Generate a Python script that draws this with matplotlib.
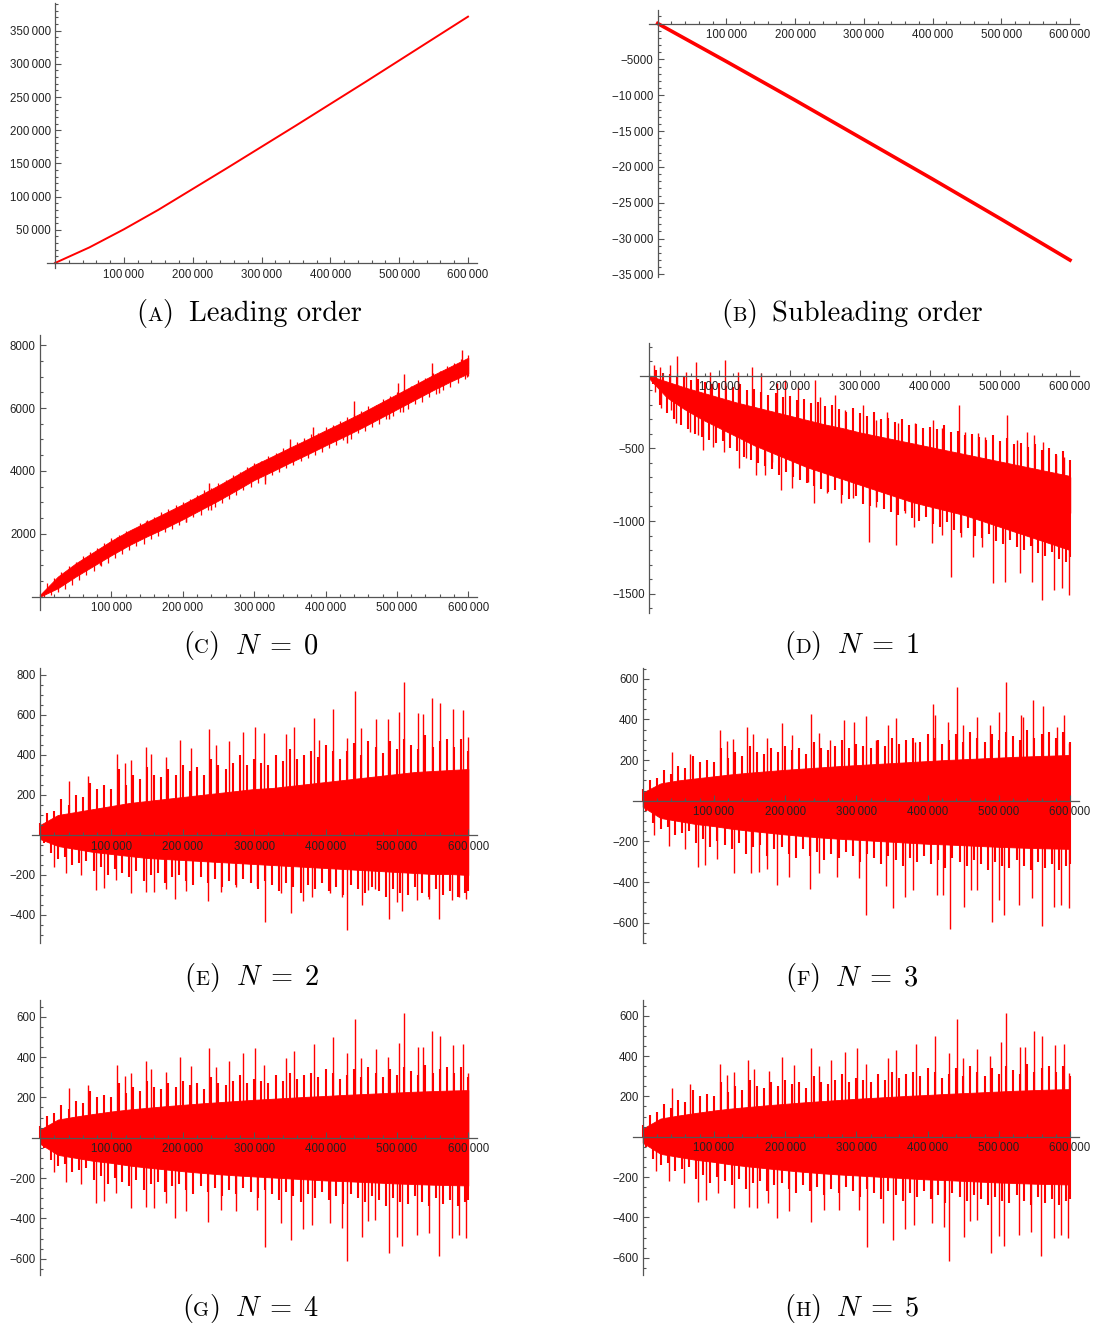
import numpy as np
import matplotlib
matplotlib.use('Agg')
import matplotlib.pyplot as plt
from matplotlib.ticker import FixedLocator, MultipleLocator, FuncFormatter

W, H = 1096, 1327
RED = '#ff0000'
AXC = '#555555'

plt.rcParams['mathtext.fontset'] = 'cm'

# ---------------- data (x in units of 1000) ----------------
# (A) leading order, sampled every 50 000
a_x = [0, 50, 100, 150, 200, 250, 300, 350, 400, 450, 500, 550, 600]
a_y = [0, 23500, 50700, 80000, 111500, 143000, 175000, 207000, 239500,
       272000, 305000, 338000, 371000]

# (B) subleading order, every 100 000
b_x = [0, 100, 200, 300, 400, 500, 600]
b_y = [0, -5300, -10700, -16200, -21700, -27300, -33000]

# solid core of the noisy bands, every 25 000
band_x = [0, 25, 50, 75, 100, 125, 150, 175, 200, 225, 250, 275, 300, 325,
          350, 375, 400, 425, 450, 475, 500, 525, 550, 575, 600]
# medium spikes, every 10 000
med_x = list(range(0, 601, 10))

c_top = [60, 640, 1060, 1420, 1780, 2100, 2380, 2660, 2940, 3240, 3540, 3860,
         4190, 4460, 4740, 5010, 5290, 5560, 5840, 6140, 6440, 6740, 7040, 7320, 7600]
c_bot = [0, 270, 640, 980, 1320, 1640, 1920, 2180, 2460, 2760, 3060, 3380,
         3710, 3980, 4260, 4530, 4810, 5080, 5360, 5660, 5960, 6260, 6560, 6840, 7100]
c_mu = [100, 430, 610, 800, 980, 1100, 1280, 1420, 1560, 1700,
        1880, 1960, 2080, 2160, 2350, 2430, 2540, 2680, 2780, 2900,
        3020, 3100, 3240, 3390, 3450, 3620, 3700, 3880, 3960, 4130,
        4250, 4330, 4480, 4560, 4720, 4800, 4920, 5040, 5160, 5220,
        5400, 5450, 5580, 5700, 5800, 5900, 6050, 6100, 6280, 6370,
        6500, 6620, 6700, 6880, 6950, 7100, 7180, 7350, 7420, 7560, 7700]
c_md = [0, 40, 150, 260, 380, 540, 700, 820, 970, 1080,
        1240, 1350, 1480, 1600, 1680, 1840, 1930, 2070, 2150, 2290,
        2380, 2520, 2600, 2770, 2850, 2980, 3120, 3230, 3380, 3500,
        3630, 3720, 3880, 3950, 4080, 4180, 4320, 4400, 4520, 4610,
        4740, 4830, 4980, 5020, 5200, 5280, 5400, 5500, 5650, 5760,
        5880, 5960, 6120, 6200, 6350, 6450, 6580, 6680, 6800, 6920, 7020]
c_up = [(108, 1907), (149, 2415), (237, 3600), (350, 5030), (383, 5400),
        (440, 6229), (502, 6800), (510, 7066), (549, 7415), (591, 7860)]
c_dn = [(84, 1006), (205, 2383), (240, 2754), (315, 3580), (430, 4894),
        (489, 5636), (509, 5879), (559, 6462), (598, 6990)]

d_top = [0, -40, -80, -115, -150, -185, -215, -245, -275, -305, -335, -360,
         -390, -415, -440, -465, -490, -515, -540, -565, -590, -615, -640, -665, -690]
d_bot = [-20, -150, -230, -300, -360, -420, -480, -530, -580, -630, -670, -710,
         -750, -790, -830, -870, -900, -930, -960, -1000, -1040, -1080, -1120, -1160, -1200]
d_mu = [0, 40, 20, 10, -10, 0, -30, -20, -40, -60,
        -50, -70, -80, -60, -100, -90, -110, -130, -120, -150,
        -140, -170, -160, -190, -180, -210, -200, -230, -250, -220,
        -260, -280, -250, -300, -290, -320, -300, -340, -330, -360,
        -350, -370, -340, -390, -380, -410, -400, -420, -440, -410,
        -450, -430, -470, -460, -490, -470, -510, -500, -540, -520, -580]
d_md = [-60, -200, -260, -300, -340, -370, -400, -420, -440, -460,
        -450, -500, -520, -560, -580, -600, -620, -640, -680, -660,
        -700, -720, -740, -760, -780, -800, -790, -820, -850, -830,
        -880, -900, -870, -920, -940, -960, -930, -980, -1000, -970,
        -1020, -1040, -1010, -1060, -1080, -1050, -1100, -1120, -1090, -1140,
        -1160, -1130, -1180, -1200, -1170, -1220, -1240, -1210, -1260, -1280, -1250]
d_up = [(6, 73), (15, 62), (29, 73), (40, 135), (53, 28), (67, 92), (87, 28),
        (108, 108), (127, 28), (147, 62), (159, 16), (182, -53), (193, -30),
        (212, -76), (236, -30), (243, -144), (265, -133), (279, -236), (305, -202),
        (324, -305), (339, -248), (355, -323), (379, -328), (405, -305), (417, -362),
        (441, -202), (450, -385), (469, -392), (479, -420), (510, -271), (524, -443),
        (538, -385), (548, -408), (562, -454), (580, -546), (591, -557), (600, -695)]
d_dn = [(8, -110), (17, -225), (31, -236), (38, -328), (58, -385), (69, -408),
        (76, -511), (91, -489), (106, -523), (128, -638), (138, -569), (152, -683),
        (165, -683), (175, -592), (188, -787), (204, -775), (227, -729), (235, -878),
        (253, -810), (273, -878), (291, -844), (314, -1142), (324, -901), (352, -1163),
        (365, -947), (377, -1039), (403, -1154), (417, -1096), (430, -1383),
        (445, -1108), (462, -1245), (474, -1177), (490, -1429), (507, -1417),
        (529, -1360), (546, -1417), (560, -1544), (577, -1475), (588, -1463), (598, -1509)]

e_top = [50, 100, 115, 130, 145, 160, 170, 180, 190, 200, 210, 220, 230, 235,
         245, 255, 265, 275, 285, 295, 305, 315, 320, 325, 330]
e_bot = [-20, -55, -70, -85, -95, -105, -115, -120, -125, -130, -135, -140,
         -145, -150, -155, -160, -165, -170, -175, -180, -185, -190, -195, -195, -200]
e_mu = [60, 110, 120, 180, 150, 200, 190, 260, 230, 250,
        230, 330, 250, 300, 280, 340, 300, 290, 330, 300,
        350, 320, 340, 300, 380, 350, 330, 360, 400, 350,
        380, 360, 350, 400, 370, 430, 380, 400, 420, 390,
        450, 420, 380, 420, 460, 400, 470, 440, 410, 470,
        430, 480, 450, 430, 500, 440, 470, 480, 440, 480, 420]
e_md = [-40, -90, -120, -110, -150, -140, -130, -180, -160, -200,
        -170, -190, -210, -180, -230, -200, -190, -240, -210, -200,
        -230, -250, -210, -240, -220, -260, -230, -250, -220, -240,
        -270, -230, -250, -280, -240, -260, -290, -250, -270, -240,
        -280, -260, -300, -250, -270, -290, -260, -280, -310, -270,
        -290, -300, -260, -290, -310, -270, -300, -280, -310, -290, -280]
e_up = [(41, 270), (67, 297), (108, 405), (119, 358), (128, 375), (148, 438),
        (156, 403), (177, 392), (196, 473), (212, 433), (237, 530), (247, 450),
        (265, 470), (284, 513), (301, 542), (314, 512), (345, 505), (356, 542),
        (384, 583), (391, 475), (410, 628), (430, 483), (441, 720), (450, 533),
        (470, 578), (487, 578), (503, 617), (510, 763), (530, 608), (537, 605),
        (549, 687), (561, 662), (579, 628), (592, 625), (599, 492)]
e_dn = [(19, -158), (37, -192), (58, -200), (78, -275), (89, -267), (106, -225),
        (128, -292), (149, -283), (160, -287), (176, -270), (189, -320), (205, -278),
        (236, -328), (254, -283), (275, -262), (304, -253), (315, -437), (337, -292),
        (352, -392), (369, -328), (381, -308), (406, -292), (423, -312), (430, -475),
        (451, -350), (460, -275), (469, -270), (489, -420), (500, -337), (507, -378),
        (528, -325), (545, -320), (559, -420), (577, -325), (587, -308), (597, -322)]

f_top = [40, 85, 100, 110, 120, 130, 138, 145, 152, 158, 164, 170, 175, 180,
         185, 190, 195, 200, 204, 208, 212, 216, 219, 222, 225]
f_bot = [-30, -85, -100, -115, -125, -138, -148, -157, -166, -174, -181, -187,
         -192, -197, -202, -207, -212, -215, -219, -223, -227, -230, -233, -235, -237]
f_mu = [60, 100, 110, 150, 130, 170, 160, 220, 190, 200,
        190, 260, 210, 240, 220, 270, 240, 230, 260, 240,
        270, 250, 260, 230, 290, 260, 250, 270, 300, 260,
        280, 270, 260, 300, 270, 310, 280, 300, 310, 290,
        330, 310, 280, 300, 330, 290, 340, 310, 290, 330,
        300, 340, 320, 300, 350, 310, 330, 340, 310, 340, 290]
f_md = [-50, -110, -140, -130, -170, -160, -150, -210, -190, -230,
        -200, -220, -240, -210, -260, -230, -220, -270, -240, -230,
        -260, -280, -240, -270, -250, -290, -260, -280, -250, -270,
        -300, -260, -280, -310, -270, -290, -320, -280, -300, -270,
        -310, -290, -330, -280, -300, -320, -290, -310, -340, -300,
        -320, -330, -290, -320, -340, -300, -330, -310, -340, -320, -310]
f_up = [(41, 238), (66, 228), (108, 348), (118, 295), (127, 305), (147, 361),
        (155, 328), (174, 307), (196, 380), (209, 323), (236, 426), (247, 334),
        (263, 298), (283, 397), (297, 389), (313, 416), (328, 298), (344, 372),
        (355, 405), (382, 290), (408, 475), (411, 421), (428, 389), (441, 557),
        (450, 370), (470, 410), (487, 370), (501, 438), (510, 585), (531, 420),
        (534, 413), (548, 495), (562, 467), (582, 364), (592, 421), (598, 282)]
f_dn = [(16, -169), (37, -223), (59, -239), (77, -325), (88, -316), (105, -289),
        (128, -357), (152, -354), (164, -352), (175, -338), (188, -415), (205, -374),
        (235, -436), (248, -357), (273, -374), (304, -382), (314, -561), (342, -420),
        (352, -530), (368, -475), (379, -439), (413, -464), (422, -464), (431, -633),
        (451, -521), (461, -439), (469, -439), (490, -595), (500, -489), (507, -562),
        (528, -513), (547, -480), (561, -616), (578, -521), (587, -513), (598, -530)]

g_top = [40, 90, 105, 118, 130, 140, 148, 156, 163, 170, 176, 182, 188, 193,
         198, 203, 207, 212, 216, 220, 224, 228, 231, 234, 236]
g_bot = [-30, -85, -100, -115, -125, -138, -148, -157, -166, -174, -181, -187,
         -192, -197, -202, -207, -212, -215, -219, -223, -227, -230, -233, -235, -237]
g_mu = [60, 110, 120, 160, 140, 180, 170, 230, 200, 210,
        200, 270, 220, 250, 230, 280, 250, 240, 270, 250,
        280, 260, 270, 240, 300, 270, 260, 280, 310, 270,
        290, 280, 270, 310, 280, 320, 290, 310, 320, 300,
        340, 320, 290, 310, 340, 300, 350, 320, 300, 340,
        310, 350, 330, 310, 360, 320, 340, 350, 320, 350, 300]
g_md = [-50, -110, -140, -130, -170, -160, -150, -210, -190, -230,
        -200, -220, -240, -210, -260, -230, -220, -270, -240, -230,
        -260, -280, -240, -270, -250, -290, -260, -280, -250, -270,
        -300, -260, -280, -310, -270, -290, -320, -280, -300, -270,
        -310, -290, -330, -280, -300, -320, -290, -310, -340, -300,
        -320, -330, -290, -320, -340, -300, -330, -310, -340, -320, -310]
g_up = [(41, 245), (67, 261), (108, 360), (119, 306), (128, 322), (148, 380),
        (156, 339), (177, 327), (196, 398), (212, 355), (237, 443), (247, 352),
        (265, 380), (284, 421), (301, 443), (314, 360), (345, 393), (356, 430),
        (384, 463), (410, 501), (430, 418), (441, 587), (450, 393), (470, 440),
        (487, 402), (503, 471), (510, 617), (530, 448), (537, 448), (549, 529),
        (561, 504), (579, 460), (592, 463), (599, 322)]
g_dn = [(19, -169), (37, -221), (58, -230), (78, -322), (89, -312), (106, -276),
        (128, -350), (149, -345), (160, -350), (176, -326), (189, -400), (205, -364),
        (236, -420), (254, -359), (275, -362), (304, -359), (315, -544), (337, -425),
        (352, -507), (369, -455), (381, -433), (406, -425), (423, -446), (430, -610),
        (451, -494), (460, -415), (469, -408), (489, -574), (500, -491), (507, -536),
        (528, -483), (545, -471), (559, -587), (577, -499), (587, -483), (597, -499)]

h_top = [40, 90, 105, 118, 130, 140, 148, 156, 163, 170, 176, 182, 188, 193,
         198, 203, 207, 212, 216, 220, 224, 228, 231, 234, 236]
h_bot = [-30, -85, -100, -115, -125, -138, -148, -157, -166, -174, -181, -187,
         -192, -197, -202, -207, -212, -215, -219, -223, -227, -230, -233, -235, -237]
h_mu = [60, 110, 120, 160, 140, 180, 170, 230, 200, 210,
        200, 270, 220, 250, 230, 280, 250, 240, 270, 250,
        280, 260, 270, 240, 300, 270, 260, 280, 310, 270,
        290, 280, 270, 310, 280, 320, 290, 310, 320, 300,
        340, 320, 290, 310, 340, 300, 350, 320, 300, 340,
        310, 350, 330, 310, 360, 320, 340, 350, 320, 350, 300]
h_md = [-50, -110, -140, -130, -170, -160, -150, -210, -190, -230,
        -200, -220, -240, -210, -260, -230, -220, -270, -240, -230,
        -260, -280, -240, -270, -250, -290, -260, -280, -250, -270,
        -300, -260, -280, -310, -270, -290, -320, -280, -300, -270,
        -310, -290, -330, -280, -300, -320, -290, -310, -340, -300,
        -320, -330, -290, -320, -340, -300, -330, -310, -340, -320, -310]
h_up = [(41, 243), (67, 259), (108, 358), (119, 305), (128, 320), (148, 378),
        (156, 338), (177, 326), (196, 396), (212, 353), (237, 441), (247, 350),
        (265, 378), (284, 419), (301, 441), (314, 358), (345, 391), (356, 428),
        (384, 461), (410, 498), (430, 416), (441, 582), (450, 391), (470, 437),
        (487, 400), (503, 468), (510, 612), (530, 446), (537, 446), (549, 524),
        (561, 500), (579, 457), (592, 460), (599, 318)]
h_dn = [(19, -170), (37, -222), (58, -231), (78, -324), (89, -314), (106, -278),
        (128, -352), (149, -347), (160, -352), (176, -328), (189, -402), (205, -366),
        (236, -423), (254, -361), (275, -364), (304, -361), (315, -548), (337, -428),
        (352, -510), (369, -458), (381, -436), (406, -428), (423, -449), (430, -615),
        (451, -497), (460, -418), (469, -411), (489, -578), (500, -494), (507, -540),
        (528, -486), (545, -474), (559, -591), (577, -502), (587, -486), (597, -502)]

captions = [('A', 'Leading order'), ('B', 'Subleading order'),
            ('C', r'$N\;=\;0$'), ('D', r'$N\;=\;1$'), ('E', r'$N\;=\;2$'),
            ('F', r'$N\;=\;3$'), ('G', r'$N\;=\;4$'), ('H', r'$N\;=\;5$')]


# ---------------- helpers ----------------
def fmt(v, pos=None):
    v = int(round(v))
    s = str(abs(v))
    if abs(v) >= 10000:
        s = s[:-3] + '\u2009' + s[-3:]
    return ('\u2212' if v < 0 else '') + s


def make_ax(px0, px6, py0, sy, xr, yr, yticks, ymin):
    sx = (px6 - px0) / 600000.0
    left = px0 + xr[0] * sx
    right = px0 + xr[1] * sx
    top = py0 - yr[1] * sy
    bottom = py0 - yr[0] * sy
    ax = fig.add_axes([left / W, 1 - bottom / H, (right - left) / W, (bottom - top) / H])
    ax.set_xlim(*xr)
    ax.set_ylim(*yr)
    for s in ['top', 'right']:
        ax.spines[s].set_visible(False)
    for s in ['left', 'bottom']:
        ax.spines[s].set_position(('data', 0))
        ax.spines[s].set_color(AXC)
        ax.spines[s].set_linewidth(0.9)
    ax.xaxis.set_major_locator(FixedLocator([100000, 200000, 300000, 400000, 500000, 600000]))
    ax.xaxis.set_minor_locator(MultipleLocator(20000))
    ax.yaxis.set_major_locator(FixedLocator(yticks))
    ax.yaxis.set_minor_locator(MultipleLocator(ymin))
    ax.xaxis.set_major_formatter(FuncFormatter(fmt))
    ax.yaxis.set_major_formatter(FuncFormatter(fmt))
    ax.tick_params(which='both', direction='in', color=AXC, width=0.8,
                   labelcolor='#222222', labelsize=8.3)
    ax.tick_params(which='major', length=4.5)
    ax.tick_params(which='minor', length=2.5)
    ax.tick_params(axis='x', pad=4)
    ax.tick_params(axis='y', pad=3)
    for lab in ax.get_xticklabels() + ax.get_yticklabels():
        lab.set_family(['Liberation Sans', 'DejaVu Sans'])
    ax.patch.set_alpha(0)
    return ax


def noisy(ax, top, bot, mu, md, up, dn, base_mid=False, mlw=1.5):
    xb = np.array(band_x) * 1000.0
    ax.fill_between(xb, bot, top, color=RED, lw=0.6, edgecolor=RED, zorder=1)
    mid = (np.array(top) + np.array(bot)) / 2.0
    xm = np.array(med_x) * 1000.0
    bm = np.interp(xm, xb, mid) if base_mid else np.zeros(len(xm))
    xd = np.minimum(xm + 5000, 600000)
    bd = np.interp(xd, xb, mid) if base_mid else np.zeros(len(xm))
    ax.vlines(xm, bm, mu, color=RED, lw=mlw, zorder=1.4)
    ax.vlines(xd, bd, md, color=RED, lw=mlw, zorder=1.4)
    for pts in (up, dn):
        xs = np.array([p[0] for p in pts]) * 1000.0
        ys = np.array([p[1] for p in pts])
        base = np.interp(xs, xb, mid) if base_mid else np.zeros_like(ys)
        ax.vlines(xs, base, ys, color=RED, lw=1.0, zorder=1.5)


fig = plt.figure(figsize=(W / 100, H / 100), dpi=100)

# (A)
ax = make_ax(55, 468, 263, 0.000664, (-12000, 613000), (-7500, 391000),
             [50000, 100000, 150000, 200000, 250000, 300000, 350000], 10000)
ax.plot(np.array(a_x) * 1000.0, a_y, color=RED, lw=1.4)

# (B)
ax = make_ax(657.7, 1070, 23.5, 0.00717, (-13000, 613000), (-35300, 1900),
             [-5000, -10000, -15000, -20000, -25000, -30000, -35000], 1000)
ax.plot(np.array(b_x) * 1000.0, b_y, color=RED, lw=2.6)

# (C)
ax = make_ax(40, 468.3, 596.7, 0.03145, (-11600, 612000), (-420, 8320),
             [2000, 4000, 6000, 8000], 500)
noisy(ax, c_top, c_bot, c_mu, c_md, c_up, c_dn, base_mid=True, mlw=0.9)

# (D)
ax = make_ax(649.3, 1070, 375.7, 0.1453, (-13300, 612800), (-1635, 222),
             [-500, -1000, -1500], 100)
noisy(ax, d_top, d_bot, d_mu, d_md, d_up, d_dn, base_mid=True)

# (E)
ax = make_ax(40, 468.3, 835, 0.2, (-11700, 612000), (-542, 833),
             [-400, -200, 200, 400, 600, 800], 50)
noisy(ax, e_top, e_bot, e_mu, e_md, e_up, e_dn)

# (F)
ax = make_ax(642.7, 1070, 800.7, 0.2033, (-13100, 612600), (-702, 651),
             [-600, -400, -200, 200, 400, 600], 50)
noisy(ax, f_top, f_bot, f_mu, f_md, f_up, f_dn)

# (G)
ax = make_ax(40, 468.3, 1137.7, 0.2017, (-11700, 612000), (-681, 683),
             [-600, -400, -200, 200, 400, 600], 50)
noisy(ax, g_top, g_bot, g_mu, g_md, g_up, g_dn)

# (H)
ax = make_ax(642.7, 1070, 1136.7, 0.2017, (-13100, 612600), (-686, 678),
             [-600, -400, -200, 200, 400, 600], 50)
noisy(ax, h_top, h_bot, h_mu, h_md, h_up, h_dn)

# ---------------- captions ----------------
renderer = fig.canvas.get_renderer()
FS = 20.5
cap_pos = [(249, 321), (852, 321), (251, 653), (852, 653),
           (252, 985), (852, 985), (251, 1316), (852, 1316)]


def caption(cx, by, letter, rest):
    parts = [('(', FS), (letter, FS * 0.72), (')', FS), (None, 15), (rest, FS)]
    texts = []
    total = 0
    for s, size in parts:
        if s is None:
            texts.append((None, size))
            total += size
            continue
        t = fig.text(0, 0, s, fontsize=size, family='cmr10', va='baseline',
                     ha='left', color='black')
        w = t.get_window_extent(renderer).width
        texts.append((t, w))
        total += w
    x = cx - total / 2.0
    for t, w in texts:
        if t is not None:
            t.set_position((x / W, 1 - by / H))
        x += w


for (cx, by), (letter, rest) in zip(cap_pos, captions):
    caption(cx, by, letter, rest)

fig.savefig('out.png', dpi=100)
